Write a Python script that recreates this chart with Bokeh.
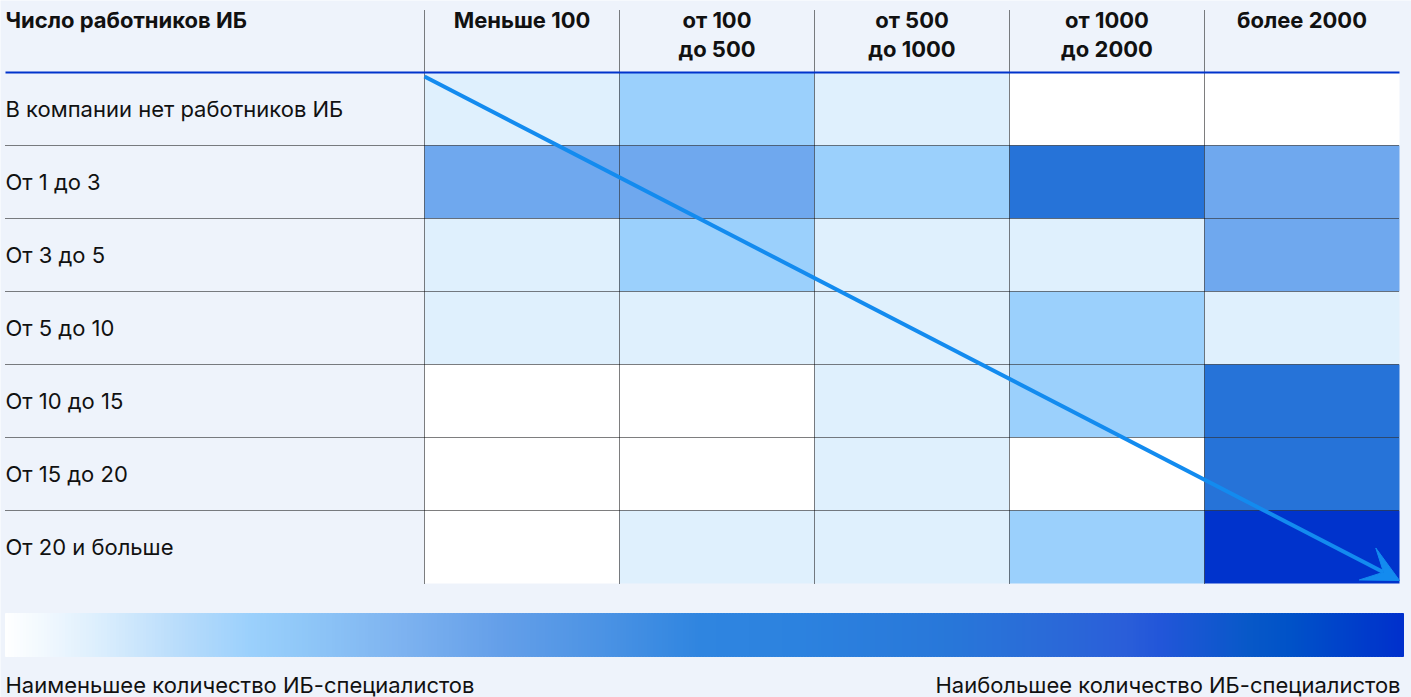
from bokeh.plotting import figure
from bokeh.models import Range1d, Arrow, VeeHead
from bokeh.core.properties import value
from bokeh.embed import file_html
from bokeh.resources import INLINE

# ---------------- data ----------------
corner_label = "Число работников ИБ"
col_labels = ["Меньше 100", "от 100\nдо 500", "от 500\nдо 1000", "от 1000\nдо 2000", "более 2000"]
row_labels = ["В компании нет работников ИБ", "От 1 до 3", "От 3 до 5", "От 5 до 10",
              "От 10 до 15", "От 15 до 20", "От 20 и больше"]
# intensity level (0 = fewest ... 5 = most) per column, rows top to bottom
lvl_lt100 = [1, 3, 1, 1, 0, 0, 0]
lvl_100_500 = [2, 3, 2, 1, 0, 0, 1]
lvl_500_1000 = [1, 2, 1, 1, 1, 1, 1]
lvl_1000_2000 = [0, 4, 1, 2, 2, 0, 2]
lvl_gt2000 = [0, 3, 3, 1, 4, 4, 5]
level_colors = ["#ffffff", "#dff0fd", "#9bd0fc", "#6fa8ee", "#2673d8", "#0033cc"]
low_label = "Наименьшее количество ИБ-специалистов"
high_label = "Наибольшее количество ИБ-специалистов"
# colour scale stops (pixel position along the bar, colour)
grad_pos = [5, 40, 100, 180, 250, 300, 400, 500, 600, 700, 800, 950, 1050, 1125, 1160, 1250, 1290, 1403]
grad_colors = ["#ffffff", "#f3f9fe", "#dbeefd", "#b8dcfb", "#9bd0fc", "#90c8f8", "#7eb3f0", "#649fe9",
               "#4c93e4", "#2f85e0", "#2c82df", "#2877d9", "#2a6ad8", "#2a5ed9", "#2256d9", "#0758c8",
               "#0052c8", "#0030cc"]

# ---------------- layout (data units: 1 column = 1, 1 row = 1) ----------------
W, H = 1411, 697
colw, rowh = 195.0, 73.0
x0px, y0px = 424.0, 72.0
xr = Range1d(-x0px / colw, (W - x0px) / colw)
yr = Range1d((H - y0px) / rowh, -y0px / rowh)   # flipped: rows go downward

BG = "#eef3fb"
FONT = "Inter"
FS = "22px"
TXT = "#111111"
p = figure(width=W, height=H, x_range=xr, y_range=yr, toolbar_location=None,
           output_backend="svg", min_border=0, x_axis_type=None, y_axis_type=None,
           background_fill_color=BG, border_fill_color=BG, outline_line_color=None)
p.grid.visible = False

def px_x(v):
    return (v - x0px) / colw

def px_y(v):
    return (v - y0px) / rowh

ncol, nrow = len(col_labels), len(row_labels)
cols = [lvl_lt100, lvl_100_500, lvl_500_1000, lvl_1000_2000, lvl_gt2000]

# cells
xs, ys, cs = [], [], []
for ci, col in enumerate(cols):
    for ri, lv in enumerate(col):
        xs.append(ci + 0.5)
        ys.append(ri + 0.5)
        cs.append(level_colors[lv])
p.rect(x=xs, y=ys, width=1, height=1, fill_color=cs, line_color=None)

left = px_x(5)
# horizontal dotted separators
for ri in range(1, nrow):
    p.line([left, ncol], [ri, ri], line_color="#000000", line_dash="1 1", line_width=1)
# vertical dotted separators
for ci in range(ncol):
    p.line([ci, ci], [px_y(10), nrow], line_color="#000000", line_dash="1 1", line_width=1)
# header blue line
p.line([left, ncol], [0, 0], line_color="#0033cc", line_width=2)

# header texts
p.text(x=[left], y=[px_y(19)], text=[corner_label], text_font=value(FONT), text_font_style="bold",
       text_font_size=FS, text_align="left", text_baseline="middle", text_color=TXT)
l1x, l1t, l2x, l2t = [], [], [], []
for ci, lab in enumerate(col_labels):
    parts = lab.split("\n")
    l1x.append(ci + 0.5); l1t.append(parts[0])
    if len(parts) > 1:
        l2x.append(ci + 0.5); l2t.append(parts[1])
p.text(x=l1x, y=[px_y(19)] * len(l1x), text=l1t, text_font=value(FONT), text_font_style="bold",
       text_font_size=FS, text_align="center", text_baseline="middle", text_color=TXT)
p.text(x=l2x, y=[px_y(48)] * len(l2x), text=l2t, text_font=value(FONT), text_font_style="bold",
       text_font_size=FS, text_align="center", text_baseline="middle", text_color=TXT)

# row labels
p.text(x=[left] * nrow, y=[r + 0.5 for r in range(nrow)], text=row_labels, text_font=value(FONT),
       text_font_size=FS, text_align="left", text_baseline="middle", text_color=TXT)

# gradient scale bar
def hex2rgb(h):
    h = h.lstrip("#")
    return tuple(int(h[i:i + 2], 16) for i in (0, 2, 4))

def interp(xp):
    for k in range(len(grad_pos) - 1):
        a, b = grad_pos[k], grad_pos[k + 1]
        if a <= xp <= b:
            f = (xp - a) / (b - a)
            ca, cb = hex2rgb(grad_colors[k]), hex2rgb(grad_colors[k + 1])
            return "#%02x%02x%02x" % tuple(round(ca[i] + (cb[i] - ca[i]) * f) for i in range(3))
    return grad_colors[-1]

N = 466
gstep = (grad_pos[-1] - grad_pos[0]) / N
gl = [px_x(grad_pos[0] + i * gstep) for i in range(N)]
gr = [px_x(grad_pos[0] + (i + 1) * gstep) for i in range(N)]
gc = [interp(grad_pos[0] + (i + 0.5) * gstep) for i in range(N)]
p.quad(left=gl, right=gr, top=[px_y(613)] * N, bottom=[px_y(656)] * N, fill_color=gc,
       line_color=gc, line_width=1)

# bottom labels
p.text(x=[left], y=[px_y(684)], text=[low_label], text_font=value(FONT), text_font_size=FS,
       text_align="left", text_baseline="middle", text_color=TXT)
p.text(x=[px_x(1400)], y=[px_y(684)], text=[high_label], text_font=value(FONT), text_font_size=FS,
       text_align="right", text_baseline="middle", text_color=TXT)

# diagonal arrow
arrow = Arrow(end=VeeHead(size=36, fill_color="#138bef", line_color="#138bef"),
              x_start=0, y_start=px_y(76), x_end=px_x(1399), y_end=px_y(580),
              line_color="#138bef", line_width=4)
p.add_layout(arrow)

open("out.html", "w").write(file_html(p, INLINE))
